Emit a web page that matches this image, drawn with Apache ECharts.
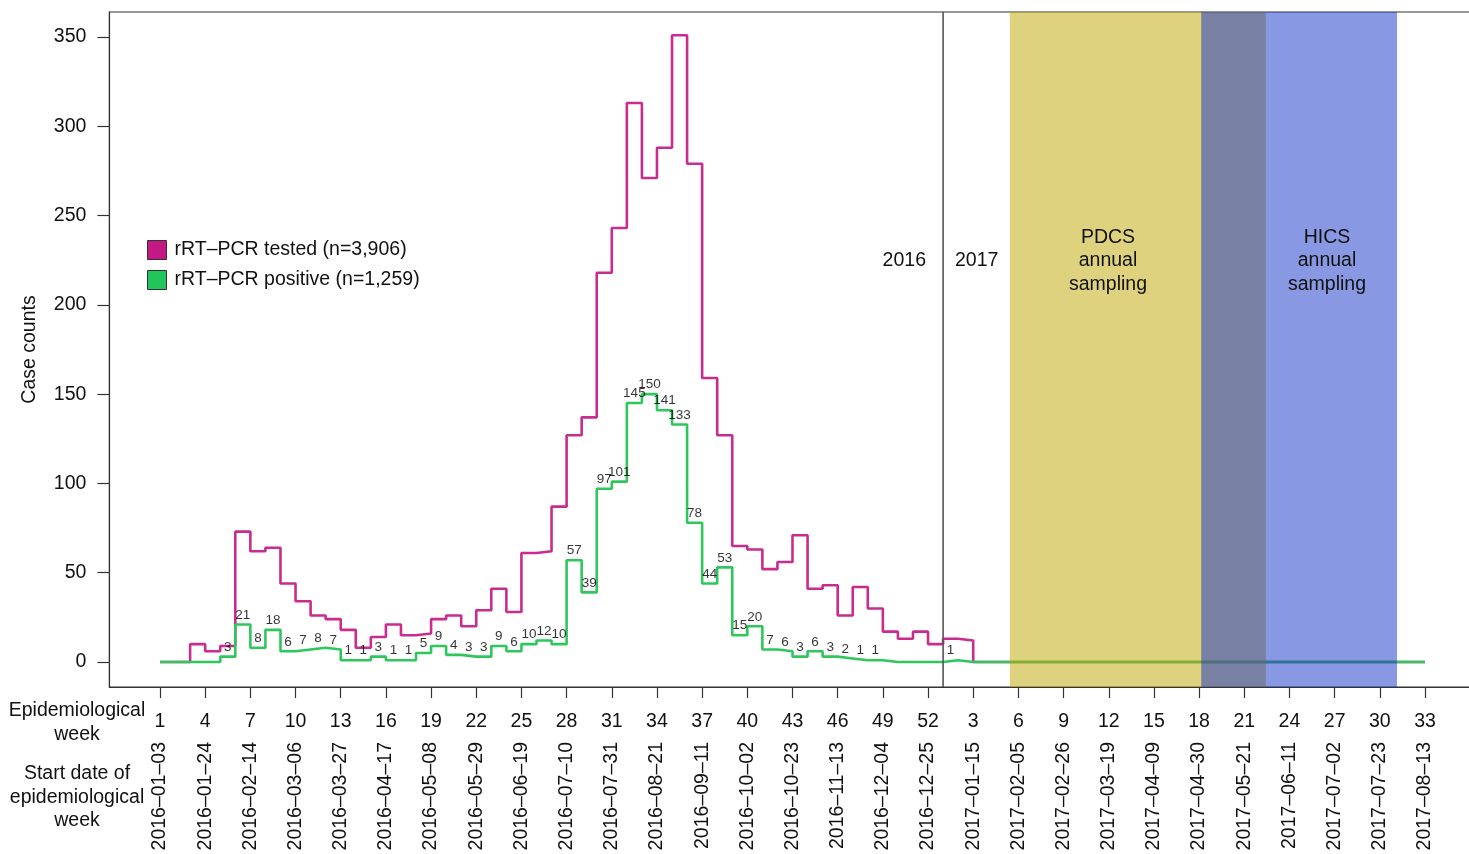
<!DOCTYPE html>
<html>
<head>
<meta charset="utf-8">
<script src="https://cdn.jsdelivr.net/npm/echarts@6/dist/echarts.min.js"></script>
<style>
html,body{margin:0;padding:0;background:#fff;overflow:hidden;}
#chart{width:1484px;height:854px;}
</style>
</head>
<body>
<div id="chart"></div>
<script>
// ---------- DATA ----------
// weekly counts, 2016 epi weeks 1..52
const tested2016 = [0,0,10,6,9,73,62,64,44,34, 26,24,18,8,14,21,15,16,24,26,
                    20,29,41,28,61,62,87,127,137,218, 243,313,271,288,351,279,159,127,65,63,
                    52,56,71,41,43,26,42,30,17,13, 17,10];
// 2017 epi weeks 1..33
const tested2017 = [13,12,0,0,0,0,0,0,0,0, 0,0,0,0,0,0,0,0,0,0,
                    0,0,0,0,0,0,0,0,0,0, 0,0,0];
const positive2016 = [0,0,0,0,3,21,8,18,6,7, 8,7,1,1,3,1,1,5,9,4,
                      3,3,9,6,10,12,10,57,39,97, 101,145,150,141,133,78,44,53,15,20,
                      7,6,3,6,3,2,1,1,0,0, 0,0];
const positive2017 = [1,0,0,0,0,0,0,0,0,0, 0,0,0,0,0,0,0,0,0,0,
                      0,0,0,0,0,0,0,0,0,0, 0,0,0];

// tick positions (week index from 2016 week 1) and labels
const weekTickIdx = [0,3,6,9,12,15,18,21,24,27,30,33,36,39,42,45,48,51,54,57,60,63,66,69,72,75,78,81,84];
const weekTickLabels = ['1','4','7','10','13','16','19','22','25','28','31','34','37','40','43','46','49','52',
                        '3','6','9','12','15','18','21','24','27','30','33'];
const dateTickLabels = ['2016–01–03','2016–01–24','2016–02–14','2016–03–06','2016–03–27','2016–04–17',
  '2016–05–08','2016–05–29','2016–06–19','2016–07–10','2016–07–31','2016–08–21','2016–09–11',
  '2016–10–02','2016–10–23','2016–11–13','2016–12–04','2016–12–25','2017–01–15','2017–02–05',
  '2017–02–26','2017–03–19','2017–04–09','2017–04–30','2017–05–21','2017–06–11','2017–07–02',
  '2017–07–23','2017–08–13'];
const yTicks = [0,50,100,150,200,250,300,350];

// sampling periods in week-index units (PDCS: 2017-02-01..2017-05-31, HICS: 2017-05-01..2017-07-31)
const pdcsPeriod = [56.43, 73.43];
const hicsPeriod = [69.14, 82.14];
const yearDivider = 52;

const seriesNames = ['rRT–PCR tested (n=3,906)', 'rRT–PCR positive (n=1,259)'];

// ---------- BUILD ----------
const tested = tested2016.concat(tested2017);
const positive = positive2016.concat(positive2017);
const testedData = tested.map((v, i) => [i, v]);
const positiveData = positive.map((v, i) => [i, v]);
const labelData = [];
positive.forEach((v, i) => { if (v > 0) labelData.push([i + 0.5, v]); });

const FONT = '"Liberation Sans", Arial, Helvetica, sans-serif';
const FS = 19.5;

const chart = echarts.init(document.getElementById('chart'), null, {renderer: 'canvas'});

const periodData = [
  [pdcsPeriod[0], pdcsPeriod[1], 0],
  [hicsPeriod[0], hicsPeriod[1], 1],
  [yearDivider, yearDivider, 2]
];
const periodColors = ['rgba(190,165,0,0.5)', 'rgba(20,50,200,0.5)'];

const option = {
  animation: false,
  textStyle: {fontFamily: FONT, color: '#111'},
  grid: {left: 109.4, width: 1366.2, top: 12, height: 675, show: true, borderColor: '#333', borderWidth: 1.2, containLabel: false},
  legend: {
    orient: 'vertical', left: 147, top: 240, padding: 0, itemWidth: 19, itemHeight: 19, itemGap: 10,
    icon: 'rect', selectedMode: false,
    itemStyle: {borderColor: '#333', borderWidth: 1},
    textStyle: {fontSize: FS, color: '#111', fontFamily: FONT, lineHeight: 19, padding: [0, 0, 0, 3]},
    data: seriesNames
  },
  xAxis: [
    {
      type: 'value', min: -3.36, max: 87.36, position: 'bottom',
      axisLine: {show: true, onZero: false, lineStyle: {color: '#333', width: 1.2}},
      axisTick: {show: true, length: 11, customValues: weekTickIdx, lineStyle: {color: '#333', width: 1.2}},
      axisLabel: {show: true, margin: 25, fontSize: FS, color: '#111', fontFamily: FONT, customValues: weekTickIdx,
        formatter: v => { const k = weekTickIdx.indexOf(Math.round(v)); return k >= 0 ? weekTickLabels[k] : ''; }},
      splitLine: {show: false}
    },
    {
      type: 'value', min: -3.36, max: 87.36, position: 'bottom', gridIndex: 0,
      axisLine: {show: false, onZero: false}, axisTick: {show: false},
      axisLabel: {show: true, rotate: 90, margin: 55, fontSize: FS, color: '#111', fontFamily: FONT, customValues: weekTickIdx,
        formatter: v => { const k = weekTickIdx.indexOf(Math.round(v)); return k >= 0 ? dateTickLabels[k] : ''; }},
      splitLine: {show: false}
    }
  ],
  yAxis: {
    type: 'value', min: -14, max: 364,
    name: 'Case counts', nameLocation: 'middle', nameGap: 70, nameRotate: 90,
    nameTextStyle: {fontSize: FS, color: '#111', fontFamily: FONT},
    axisLine: {show: true, onZero: false, lineStyle: {color: '#333', width: 1.2}},
    axisTick: {show: true, length: 12, customValues: yTicks, lineStyle: {color: '#333', width: 1.2}},
    axisLabel: {show: true, margin: 23, fontSize: FS, color: '#111', fontFamily: FONT, customValues: yTicks},
    splitLine: {show: false}
  },
  series: [
    {
      name: seriesNames[0], type: 'line', step: 'end', data: testedData, showSymbol: false, z: 2,
      itemStyle: {color: '#c21a82'},
      lineStyle: {color: '#c92b8e', width: 2.6}
    },
    {
      name: seriesNames[1], type: 'line', step: 'end', data: positiveData, showSymbol: false, z: 3,
      itemStyle: {color: '#22c55a'},
      lineStyle: {color: '#2ec75c', width: 2.6}
    },
    {
      name: 'labels', type: 'scatter', data: labelData, symbolSize: 1, z: 4,
      itemStyle: {color: 'rgba(0,0,0,0)'},
      label: {show: true, position: 'top', distance: 2, fontSize: 13.5, color: '#000', fontFamily: FONT,
        formatter: p => String(p.value[1])}
    },
    {
      name: 'periods', type: 'custom', data: periodData, z: 6, silent: true,
      encode: {x: [0, 1], y: 2},
      renderItem: (params, api) => {
        const cs = params.coordSys;
        const kind = api.value(2);
        const s = api.coord([api.value(0), 0])[0];
        const e = api.coord([api.value(1), 0])[0];
        if (kind === 2) {
          return {type: 'line', shape: {x1: s, y1: cs.y, x2: s, y2: cs.y + cs.height},
                  style: {stroke: '#555', lineWidth: 1.6}};
        }
        return {type: 'rect', shape: {x: s, y: cs.y, width: e - s, height: cs.height},
                style: {fill: periodColors[kind]}};
      }
    }
  ],
  graphic: [
    {type: 'text', x: 77, y: 722.5, style: {text: 'Epidemiological\nweek', textAlign: 'center', textVerticalAlign: 'middle', font: FS + 'px ' + FONT, lineHeight: 23.5, fill: '#111'}},
    {type: 'text', x: 77, y: 797.5, style: {text: 'Start date of\nepidemiological\nweek', textAlign: 'center', textVerticalAlign: 'middle', font: FS + 'px ' + FONT, lineHeight: 23.5, fill: '#111'}},
    {type: 'text', x: 926, y: 261, style: {text: '2016', textAlign: 'right', textVerticalAlign: 'middle', font: FS + 'px ' + FONT, fill: '#111'}},
    {type: 'text', x: 955, y: 261, style: {text: '2017', textAlign: 'left', textVerticalAlign: 'middle', font: FS + 'px ' + FONT, fill: '#111'}},
    {type: 'text', x: 1108, y: 261, z: 10, style: {text: 'PDCS\nannual\nsampling', textAlign: 'center', textVerticalAlign: 'middle', font: FS + 'px ' + FONT, lineHeight: 23.5, fill: '#111'}},
    {type: 'text', x: 1327, y: 261, z: 10, style: {text: 'HICS\nannual\nsampling', textAlign: 'center', textVerticalAlign: 'middle', font: FS + 'px ' + FONT, lineHeight: 23.5, fill: '#111'}}
  ]
};
chart.setOption(option);
</script>
</body>
</html>
